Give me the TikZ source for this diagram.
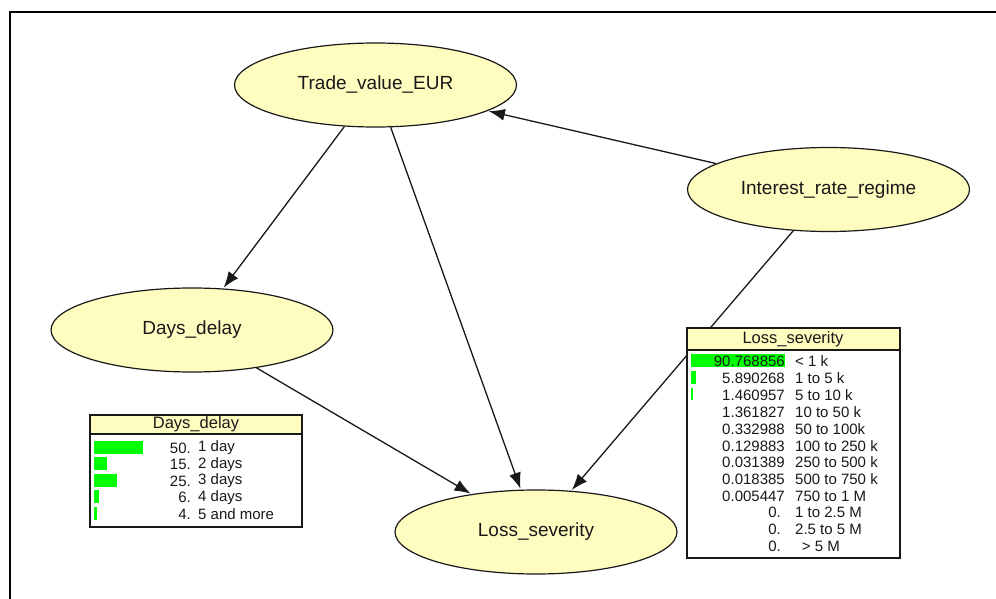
\documentclass[tikz,border=0pt]{standalone}
\usepackage{fontspec}
\setmainfont{Liberation Sans}
\usetikzlibrary{shapes.geometric,arrows.meta}
\definecolor{nodefill}{RGB}{255,252,192}
\definecolor{barg}{RGB}{0,255,0}
\definecolor{ink}{RGB}{25,25,25}
\tikzset{
  var/.style={ellipse, draw=ink, line width=1.2pt, fill=nodefill, minimum width=282pt, minimum height=84pt, inner sep=0pt, text=ink, font=\fontsize{19}{21}\selectfont},
  link/.style={draw=ink, line width=1.3pt, -{Latex[length=16pt,width=12pt]}, shorten >=1pt},
  tabbox/.style={draw=ink, line width=1.2pt, fill=white},
  tabhead/.style={draw=ink, line width=1.2pt, fill=nodefill},
  headtxt/.style={text=ink, inner sep=0pt, font=\fontsize{16.5}{18}\selectfont},
  rowtxt/.style={text=ink, inner sep=0pt, font=\fontsize{15}{16}\selectfont},
  bar/.style={fill=barg, draw=none}
}
\begin{document}
\begin{tikzpicture}[x=1pt,y=-1pt]
\useasboundingbox (0,0) rectangle (996,599);
\fill[white] (0,0) rectangle (996,599);
% frame
\draw[line width=2pt, black] (10,599) -- (10,12.5) -- (996,12.5);
% variables
\node[var] (trade) at (375.5,85) {Trade\_value\_EUR};
\node[var] (interest) at (828.5,189.5) {Interest\_rate\_regime};
\node[var] (days) at (192,330) {Days\_delay};
\node[var] (loss) at (536,532) {Loss\_severity};
% links
\draw[link] (trade) -- (days);
\draw[link] (trade) -- (loss);
\draw[link] (interest) -- (trade);
\draw[link] (interest) -- (loss);
\draw[link] (days) -- (loss);
% Days_delay table
\draw[tabbox] (90,415) rectangle (302,527);
\draw[tabhead] (90,415) rectangle (302,434);
\node[headtxt] (ddhead) at (196,424.5) {Days\_delay};
\foreach \y/\w/\n/\lab [count=\i] in {448/49/50./1 day, 464.5/13/15./2 days, 481/23/25./3 days, 497.5/5/6./4 days, 514/3/4./5 and more}{
  \fill[bar] (94,\y-7.5) rectangle ++(\w,13);
  \node[rowtxt, anchor=east] (ddn\i) at (191,\y) {\n};
  \node[rowtxt, anchor=west] (ddl\i) at (198,\y) {\lab};
}
% Loss_severity table
\draw[tabbox] (687,328) rectangle (900,558);
\draw[tabhead] (687,328) rectangle (900,350);
\node[headtxt] (lshead) at (793,339) {Loss\_severity};
\fill[bar] (691,353.5) rectangle (785,366.5);
\fill[bar] (691,371) rectangle (696,383.5);
\fill[bar] (691,388) rectangle (692.5,400);
\foreach \y/\n/\lab [count=\i] in {
  361.5/90.768856/{< 1 k},
  378.5/5.890268/1 to 5 k,
  395.5/1.460957/5 to 10 k,
  412.5/1.361827/10 to 50 k,
  429.5/0.332988/50 to 100k,
  446/0.129883/100 to 250 k,
  462.5/0.031389/250 to 500 k,
  479.5/0.018385/500 to 750 k,
  496/0.005447/750 to 1 M}{
  \node[rowtxt, anchor=east] (lsn\i) at (785,\y) {\n};
  \node[rowtxt, anchor=west] (lsl\i) at (795,\y) {\lab};
}
\foreach \y/\lab [count=\i] in {512.5/1 to 2.5 M, 529.5/2.5 to 5 M, 546.5/{\ \,> 5 M}}{
  \node[rowtxt, anchor=east] (lsz\i) at (781,\y) {0.};
  \node[rowtxt, anchor=west] (lszl\i) at (795,\y) {\lab};
}
\end{tikzpicture}
\end{document}
